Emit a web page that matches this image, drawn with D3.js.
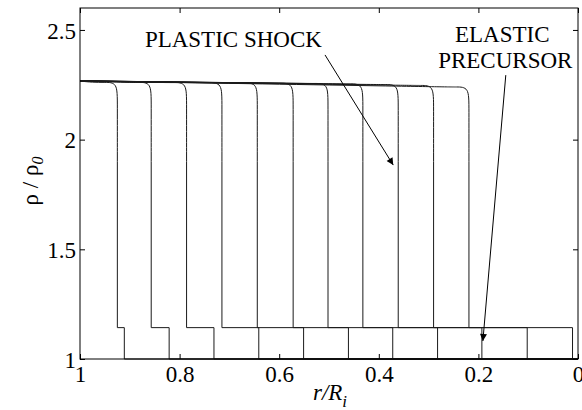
<!DOCTYPE html>
<html><head><meta charset="utf-8">
<script src="https://cdn.jsdelivr.net/npm/d3@7/dist/d3.min.js"></script>
<style>
body{margin:0;background:#fff}
svg{display:block}
</style>
</head><body>
<svg id="chart" width="582" height="410"></svg>
<script>
// ---- data ----
const plasticFront   = [0.925, 0.857, 0.786, 0.715, 0.644, 0.572, 0.502, 0.432, 0.361, 0.290, 0.219];
const elasticFront   = [0.911, 0.821, 0.731, 0.641, 0.551, 0.461, 0.372, 0.282, 0.193, 0.102, 0.011];
const plateauStart   = [2.267, 2.267, 2.267, 2.267, 2.267, 2.267, 2.268, 2.268, 2.268, 2.268, 2.268];
const plateauEnd     = [2.261, 2.261, 2.260, 2.259, 2.258, 2.257, 2.256, 2.254, 2.251, 2.247, 2.240];
const precursorLevel = [1.143, 1.143, 1.143, 1.143, 1.143, 1.143, 1.143, 1.143, 1.143, 1.143, 1.143];
const xTicks = [1, 0.8, 0.6, 0.4, 0.2, 0];
const yTicks = [1, 1.5, 2, 2.5];
const xTickLabels = ["1", "0.8", "0.6", "0.4", "0.2", "0"];
const yTickLabels = ["1", "1.5", "2", "2.5"];
const annotationLabels = [
  {text: "PLASTIC SHOCK", x: 0.692, y: 2.423},
  {text: "ELASTIC", x: 0.152, y: 2.446},
  {text: "PRECURSOR", x: 0.146, y: 2.325}
];
const arrows = [
  {x1: 0.508, y1: 2.386, x2: 0.371, y2: 1.884},
  {x1: 0.145, y1: 2.294, x2: 0.191, y2: 1.082}
];

// ---- layout ----
const FONT = "Liberation Serif, DejaVu Serif, Noto Serif, Times, serif";
const L = 80, R = 578, T = 8, B = 359;
const svg = d3.select("#chart");
const x = d3.scaleLinear().domain([1, 0]).range([L, R]);
const y = d3.scaleLinear().domain([1, 2.6]).range([B, T]);

svg.append("defs").append("marker")
  .attr("id", "ah").attr("viewBox", "0 0 10 10").attr("refX", 10).attr("refY", 5)
  .attr("markerWidth", 11).attr("markerHeight", 7).attr("markerUnits", "userSpaceOnUse")
  .attr("orient", "auto")
  .append("path").attr("d", "M0,0 L10,5 L0,10 Z").attr("fill", "#000");

// ---- data lines ----
const g = svg.append("g");
const upper = d3.line().x(d => x(d[0])).y(d => y(d[1])).curve(d3.curveBasis);
const lower = d3.line().x(d => x(d[0])).y(d => y(d[1]));
plasticFront.forEach((xs, i) => {
  const ps = plateauStart[i], pe = plateauEnd[i];
  const up = [[1, ps], [xs + 0.05, pe], [xs + 0.025, pe], [xs, pe], [xs, pe - 0.09], [xs, 1.9]];
  const lo = [[xs, 1.9], [xs, precursorLevel[i]], [elasticFront[i], precursorLevel[i]], [elasticFront[i], 1], [0, 1]];
  g.append("path").attr("d", upper(up)).attr("fill", "none").attr("stroke", "#1a1a1a").attr("stroke-width", 1);
  g.append("path").attr("d", lower(lo)).attr("fill", "none").attr("stroke", "#1a1a1a").attr("stroke-width", 1);
});

// ---- axes (inward ticks, boxed) ----
const ax = svg.append("g");
ax.append("g").attr("transform", `translate(0,${B})`)
  .call(d3.axisBottom(x).tickValues(xTicks).tickSizeInner(-5).tickSizeOuter(0).tickFormat((d, i) => xTickLabels[i]))
  .call(s => { s.select(".domain").remove(); s.selectAll("text").attr("y", 23).attr("dy", 0); });
ax.append("g").attr("transform", `translate(0,${T})`)
  .call(d3.axisTop(x).tickValues(xTicks).tickSizeInner(-5).tickSizeOuter(0).tickFormat(""))
  .call(s => s.select(".domain").remove());
ax.append("g").attr("transform", `translate(${L},0)`)
  .call(d3.axisLeft(y).tickValues(yTicks).tickSizeInner(-5).tickSizeOuter(0).tickFormat((d, i) => yTickLabels[i]))
  .call(s => { s.select(".domain").remove(); s.selectAll("text").attr("x", -4).attr("dy", "0.35em"); });
ax.append("g").attr("transform", `translate(${R},0)`)
  .call(d3.axisRight(y).tickValues(yTicks).tickSizeInner(-5).tickSizeOuter(0).tickFormat(""))
  .call(s => s.select(".domain").remove());
ax.selectAll("g").attr("font-family", FONT).attr("font-size", 23);
ax.selectAll(".tick line").attr("stroke", "#000");
ax.selectAll("text").attr("fill", "#000").attr("font-family", FONT);
ax.append("rect").attr("x", L).attr("y", T).attr("width", R - L).attr("height", B - T)
  .attr("fill", "none").attr("stroke", "#000").attr("stroke-width", 1);

// ---- axis titles ----
const xt = svg.append("text").attr("x", 330).attr("y", 400).attr("text-anchor", "middle")
  .attr("font-family", FONT).attr("font-size", 23);
xt.append("tspan").attr("font-style", "italic").text("r/R");
xt.append("tspan").attr("font-style", "italic").attr("dy", 7).attr("font-size", 17).text("i");

const yt = svg.append("text").attr("transform", "translate(38,181) rotate(-90)").attr("text-anchor", "middle")
  .attr("font-family", FONT).attr("font-size", 23);
yt.append("tspan").text("ρ / ρ");
yt.append("tspan").attr("font-style", "italic").attr("dy", 5).attr("font-size", 16).text("0");

// ---- annotations ----
svg.selectAll("text.ann").data(annotationLabels).join("text").attr("class", "ann")
  .attr("x", d => x(d.x)).attr("y", d => y(d.y)).attr("text-anchor", "middle")
  .attr("font-family", FONT).attr("font-size", 23).text(d => d.text);
svg.selectAll("line.arr").data(arrows).join("line").attr("class", "arr")
  .attr("x1", d => x(d.x1)).attr("y1", d => y(d.y1)).attr("x2", d => x(d.x2)).attr("y2", d => y(d.y2))
  .attr("stroke", "#000").attr("stroke-width", 1).attr("marker-end", "url(#ah)");
</script>
</body></html>
